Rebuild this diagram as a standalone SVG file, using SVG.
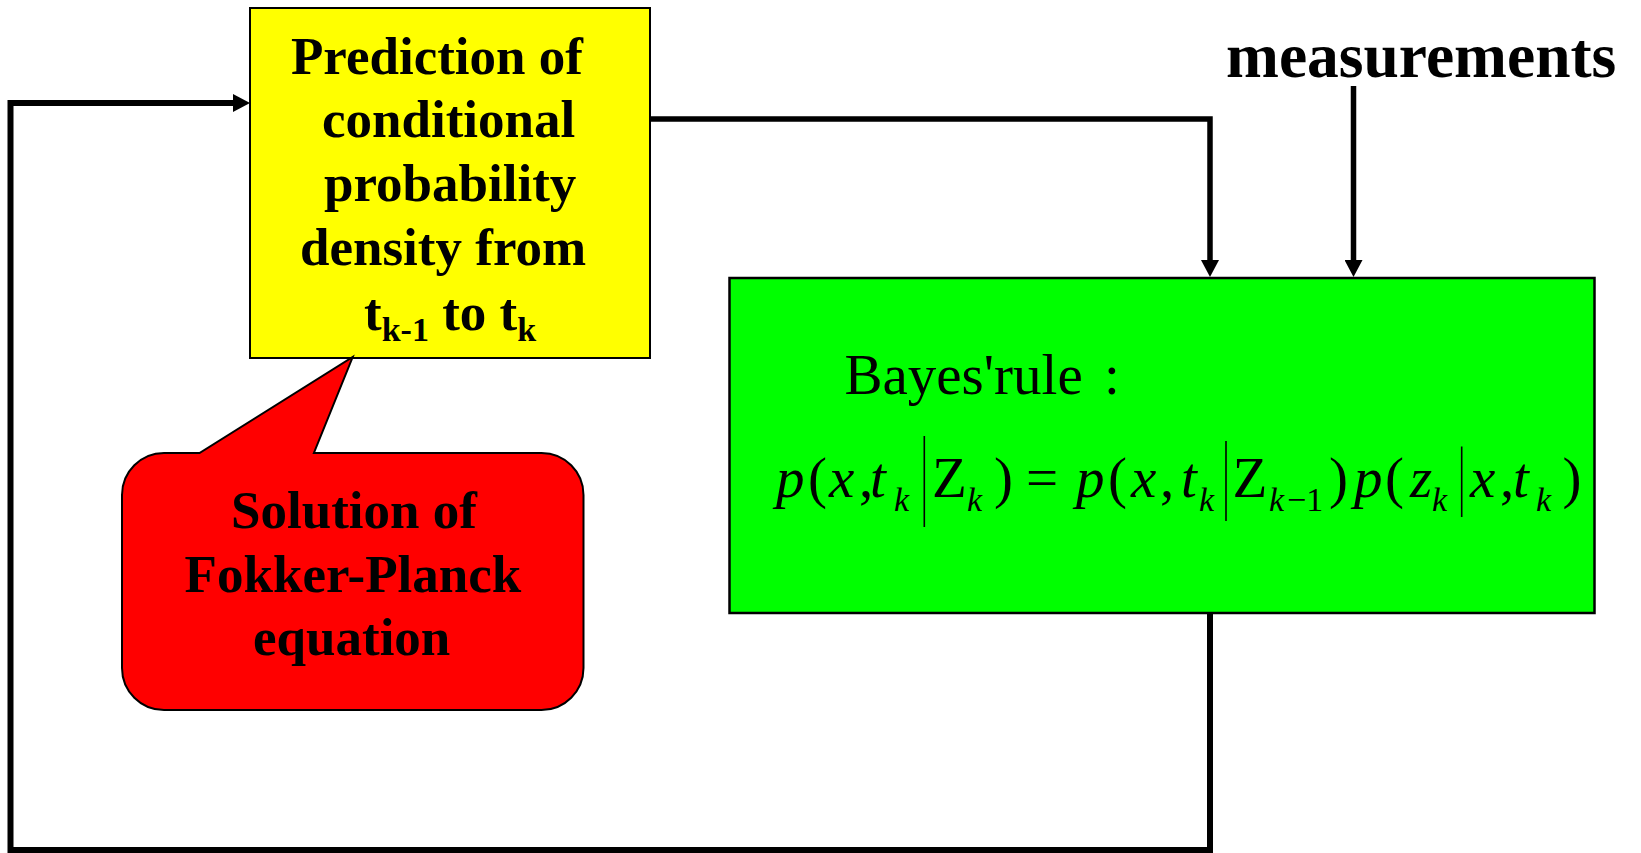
<svg xmlns="http://www.w3.org/2000/svg" width="1641" height="853" viewBox="0 0 1641 853">
<style>
.t{font-family:"Liberation Serif","Times New Roman",serif;fill:#000}
.b{font-weight:bold}
.m{font-size:57px}
.i{font-style:italic}
.s{font-size:34px}
.bar{stroke:#000;stroke-width:1.6}
.conn{fill:none;stroke:#000;stroke-linejoin:miter}
</style>
<defs>
<marker id="ah" markerUnits="userSpaceOnUse" markerWidth="18" markerHeight="18" refX="5" refY="9" orient="auto">
<path d="M0,0 L17,9 L0,18 z" fill="#000"/>
</marker>
</defs>
<rect width="1641" height="853" fill="#fff"/>

<g id="connectors">
<path class="conn" d="M650,119 H1210 V265" stroke-width="5.5" marker-end="url(#ah)"/>
<path class="conn" d="M1353.5,86 V265" stroke-width="5.5" marker-end="url(#ah)"/>
<path class="conn" d="M1210,614 V850 H10.5 V103 H238" stroke-width="6" marker-end="url(#ah)"/>
</g>

<g id="prediction">
<rect x="250" y="8" width="400" height="350" fill="#FFFF00" stroke="#000" stroke-width="2"/>
<text class="t b" font-size="53" x="291" y="74">Prediction of</text>
<text class="t b" font-size="53" x="322" y="137">conditional</text>
<text class="t b" font-size="53" x="324" y="201">probability</text>
<text class="t b" font-size="53" x="300" y="265">density from</text>
<text class="t b" font-size="53" x="364" y="330">t<tspan font-size="34" dy="11">k-1</tspan><tspan dy="-11"> to t</tspan><tspan font-size="34" dy="11">k</tspan></text>
</g>

<g id="callout">
<path d="M164,453 H199.5 L352.7,357 L313.9,453 H541.5 A42,42 0 0 1 583.5,495 V668 A42,42 0 0 1 541.5,710 H164 A42,42 0 0 1 122,668 V495 A42,42 0 0 1 164,453 Z" fill="#FF0000" stroke="#000" stroke-width="2" stroke-linejoin="miter"/>
<text class="t b" font-size="53" x="231" y="528">Solution of</text>
<text class="t b" font-size="53" x="184.6" y="592">Fokker-Planck</text>
<text class="t b" font-size="53" x="253" y="655">equation</text>
</g>

<g id="measurements">
<text class="t b" font-size="63.5" x="1226" y="77">measurements</text>
</g>

<g id="bayes">
<rect x="729.5" y="278" width="865" height="335" fill="#00FF00" stroke="#000" stroke-width="2.5"/>
<text class="t m" x="844.5" y="394">Bayes'rule</text>
<text class="t m" x="1104" y="394">:</text>
<g class="t m">
<text class="i" x="776" y="497">p</text>
<text x="808" y="497">(</text>
<text class="i" x="829" y="497">x</text>
<text x="859" y="497">,</text>
<text class="i" x="870" y="497">t</text>
<text class="i s" x="894" y="510.5">k</text>
<line class="bar" x1="924.3" y1="436" x2="924.3" y2="527"/>
<text x="932" y="497">Z</text>
<text class="i s" x="967" y="510.5">k</text>
<text x="994" y="497">)</text>
<text x="1026" y="497">=</text>
<text class="i" x="1076" y="497">p</text>
<text x="1108" y="497">(</text>
<text class="i" x="1131" y="497">x</text>
<text x="1160" y="497">,</text>
<text class="i" x="1181" y="497">t</text>
<text class="i s" x="1199" y="510.5">k</text>
<line class="bar" x1="1226" y1="441" x2="1226" y2="521"/>
<text x="1232.5" y="497">Z</text>
<text class="i s" x="1269" y="510.5">k</text>
<text class="s" x="1287" y="510.5">−1</text>
<text x="1329" y="497">)</text>
<text class="i" x="1354" y="497">p</text>
<text x="1385" y="497">(</text>
<text class="i" x="1410" y="497">z</text>
<text class="i s" x="1432" y="510.5">k</text>
<line class="bar" x1="1461.7" y1="446.5" x2="1461.7" y2="517"/>
<text class="i" x="1470" y="497">x</text>
<text x="1500" y="497">,</text>
<text class="i" x="1513" y="497">t</text>
<text class="i s" x="1536" y="510.5">k</text>
<text x="1562.5" y="497">)</text>
</g>
</g>
</svg>
